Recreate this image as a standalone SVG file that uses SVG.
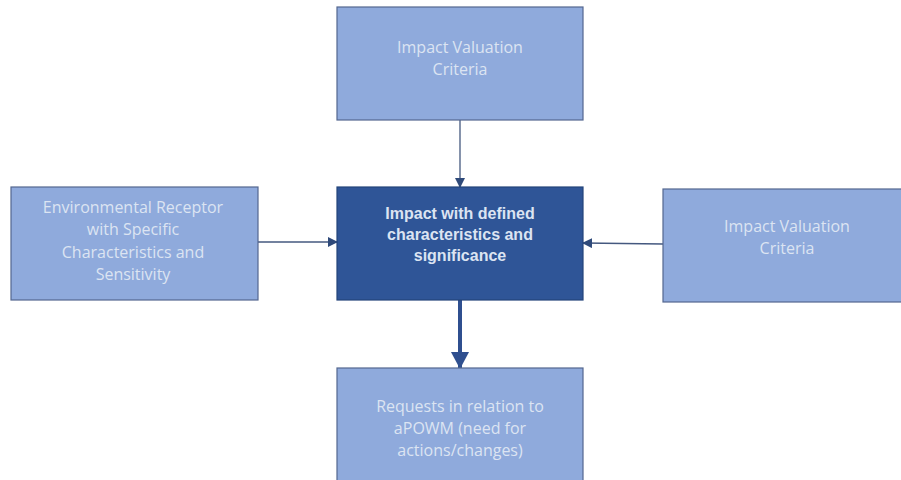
<svg xmlns="http://www.w3.org/2000/svg" width="901" height="480" viewBox="0 0 901 480">
<style>
.box{fill:#8faadc;stroke:#54678f;stroke-width:1.2}
.main{fill:#2f5597;stroke:#24447a;stroke-width:1.2}
.t{font-family:"Open Sans","Liberation Sans",sans-serif;font-size:16px;fill:#dce4f2;text-anchor:middle;dominant-baseline:central}
.tb{font-family:"Liberation Sans",Arial,sans-serif;font-size:16px;font-weight:bold;fill:#dce4f2;text-anchor:middle;dominant-baseline:central}
.c{stroke:#44587f;stroke-width:1.3;fill:none}
.ct{stroke:#2f4f8f;stroke-width:4;fill:none}
</style>
<defs>
<marker id="a" markerWidth="10" markerHeight="10" refX="9" refY="5" orient="auto" markerUnits="userSpaceOnUse"><path d="M0,0 L10,5 L0,10 z" fill="#2f4a7a"/></marker>
<marker id="ab" markerWidth="18" markerHeight="18" refX="16" refY="9" orient="auto" markerUnits="userSpaceOnUse"><path d="M0,0 L17,9 L0,18 z" fill="#2f4f8f"/></marker>
</defs>
<g id="connectors">
<line class="c" x1="460" y1="120" x2="460" y2="187" marker-end="url(#a)"/>
<line class="c" x1="258" y1="242" x2="337" y2="242" marker-end="url(#a)"/>
<line class="c" x1="663" y1="244" x2="583" y2="243" marker-end="url(#a)"/>
<line class="ct" x1="460" y1="300" x2="460" y2="368" marker-end="url(#ab)"/>
</g>
<g id="top">
<rect class="box" x="337" y="7" width="246" height="113"/>
<text class="t" x="460" y="47">Impact Valuation</text>
<text class="t" x="460" y="69">Criteria</text>
</g>
<g id="left">
<rect class="box" x="11" y="187" width="247" height="113"/>
<text class="t" x="133" y="207">Environmental Receptor</text>
<text class="t" x="133" y="229">with Specific</text>
<text class="t" x="133" y="252">Characteristics and</text>
<text class="t" x="133" y="274">Sensitivity</text>
</g>
<g id="center">
<rect class="main" x="337" y="187" width="246" height="113"/>
<text class="tb" x="460" y="213">Impact with defined</text>
<text class="tb" x="460" y="234">characteristics and</text>
<text class="tb" x="460" y="255">significance</text>
</g>
<g id="right">
<rect class="box" x="663" y="189" width="240" height="113"/>
<text class="t" x="787" y="226">Impact Valuation</text>
<text class="t" x="787" y="248">Criteria</text>
</g>
<g id="bottom">
<rect class="box" x="337" y="368" width="246" height="113"/>
<text class="t" x="460" y="406">Requests in relation to</text>
<text class="t" x="460" y="428">aPOWM (need for</text>
<text class="t" x="460" y="450">actions/changes)</text>
</g>
</svg>
